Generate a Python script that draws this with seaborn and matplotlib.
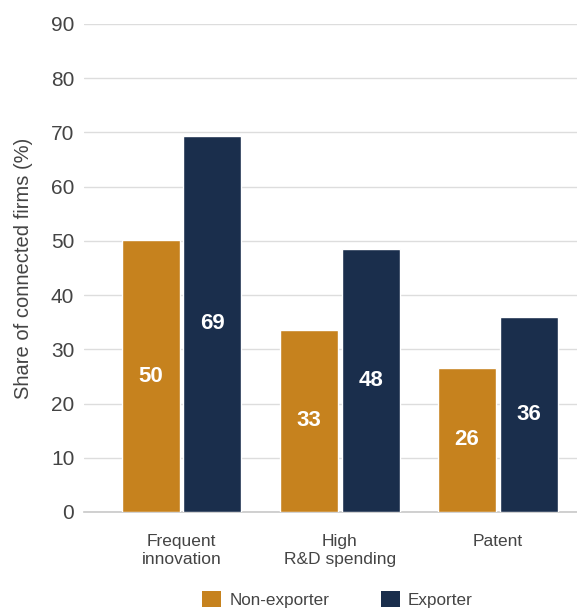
import pandas as pd
import matplotlib
matplotlib.use('Agg')
import matplotlib.pyplot as plt
import seaborn as sns
from matplotlib.patches import Patch

# Data
categories = ["Frequent\ninnovation", "High\nR&D spending", "Patent"]
non_exporter = [50.1, 33.6, 26.6]
exporter = [69.4, 48.5, 35.9]
non_exporter_labels = ["50", "33", "26"]
exporter_labels = ["69", "48", "36"]
groups = ["Non-exporter", "Exporter"]

colors = {"Non-exporter": "#C6821E", "Exporter": "#1A2E4C"}

df = pd.DataFrame({
    "Category": categories * 2,
    "Group": [groups[0]] * 3 + [groups[1]] * 3,
    "Share": non_exporter + exporter,
})

sns.set_theme(style="white")
plt.rcParams['font.family'] = ['Liberation Sans', 'DejaVu Sans']

fig = plt.figure(figsize=(5.77, 6.10), dpi=100)
ax = fig.add_axes([0.1456, 0.1607, 0.8544, 0.80])

sns.barplot(data=df, x="Category", y="Share", hue="Group", hue_order=groups,
            palette=colors, width=0.78, gap=0.06, saturation=1, ax=ax, legend=False,
            zorder=3)

# value labels in the middle of each bar
for container, labels in zip(ax.containers, [non_exporter_labels, exporter_labels]):
    ax.bar_label(container, labels=labels, label_type='center', color='white',
                 fontsize=16, fontweight='bold')

ax.set_ylim(0, 90)
ax.set_xlim(-0.616, 2.5)
ax.set_yticks(range(0, 91, 10))
ax.yaxis.grid(True, color='#dddddd', linewidth=1, zorder=0)
ax.set_axisbelow(True)
for s in ['top', 'right', 'left']:
    ax.spines[s].set_visible(False)
ax.spines['bottom'].set_color('#c8c8c8')
ax.spines['bottom'].set_linewidth(1.2)

ax.tick_params(axis='y', labelsize=15, labelcolor='#444444', length=0, pad=7)
ax.tick_params(axis='x', labelsize=12.5, labelcolor='#444444', length=0, pad=16)
ax.set_xlabel("")
ax.set_ylabel("Share of connected firms (%)", fontsize=14.5, color='#444444', labelpad=13)

handles = [Patch(facecolor=colors[g], edgecolor='none') for g in groups]
fig.legend(handles, groups, loc='lower center', bbox_to_anchor=(0.585, -0.022), ncol=2,
           frameon=False, fontsize=12.3, handlelength=1.1, handleheight=1.1,
           columnspacing=3.0, handletextpad=0.5, labelcolor='#444444')

plt.savefig("out.png", dpi=100)
